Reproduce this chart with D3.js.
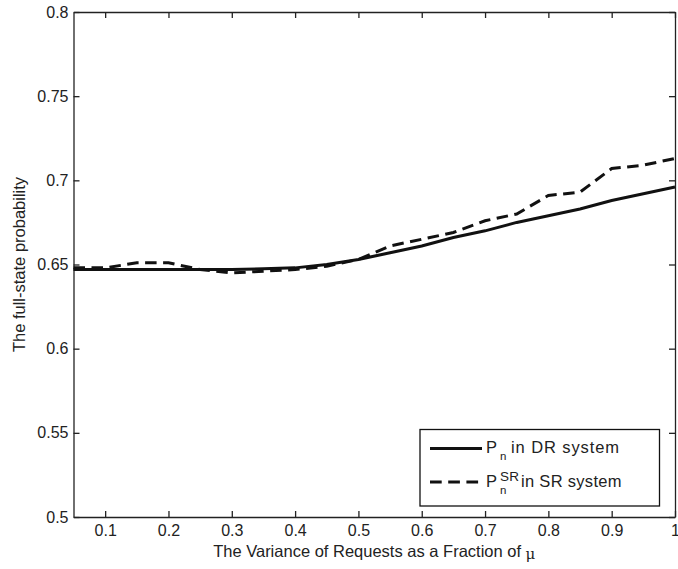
<!DOCTYPE html>
<html>
<head>
<meta charset="utf-8">
<script src="https://cdn.jsdelivr.net/npm/d3@7"></script>
<style>
  body { margin: 0; background: #fff; }
  svg { display: block; font-family: "Liberation Sans", Arial, sans-serif; }
  .axis text { font-size: 16px; fill: #222; }
  .axis path, .axis line { stroke: #222; stroke-width: 1.3; }
</style>
</head>
<body>
<svg id="chart" width="678" height="569"></svg>
<script>
const xValues = [0.05, 0.1, 0.15, 0.2, 0.25, 0.3, 0.35, 0.4, 0.45, 0.5, 0.55, 0.6, 0.65, 0.7, 0.75, 0.8, 0.85, 0.9, 0.95, 1.0];
const drSystem = [0.647, 0.647, 0.647, 0.647, 0.647, 0.647, 0.6475, 0.648, 0.650, 0.653, 0.657, 0.661, 0.666, 0.670, 0.675, 0.679, 0.683, 0.688, 0.692, 0.696];
const srSystem = [0.648, 0.648, 0.651, 0.651, 0.647, 0.645, 0.646, 0.647, 0.649, 0.653, 0.661, 0.665, 0.669, 0.676, 0.680, 0.691, 0.693, 0.707, 0.709, 0.713];
const xTicks = [0.1, 0.2, 0.3, 0.4, 0.5, 0.6, 0.7, 0.8, 0.9, 1];
const yTicks = [0.5, 0.55, 0.6, 0.65, 0.7, 0.75, 0.8];

const svg = d3.select("#chart");
const margin = { left: 73.5, right: 675, top: 12, bottom: 517 };

const x = d3.scaleLinear().domain([0.05, 1]).range([margin.left, margin.right]);
const y = d3.scaleLinear().domain([0.5, 0.8]).range([margin.bottom, margin.top]);

const fmt = (d) => String(+d.toFixed(2));

// box axes, ticks pointing inward on all four sides
svg.append("g").attr("class", "axis")
  .attr("transform", `translate(0,${margin.bottom})`)
  .call(d3.axisBottom(x).tickValues(xTicks).tickFormat(fmt).tickSizeInner(-6).tickSizeOuter(0).tickPadding(8));
svg.append("g").attr("class", "axis")
  .attr("transform", `translate(0,${margin.top})`)
  .call(d3.axisTop(x).tickValues(xTicks).tickFormat("").tickSizeInner(-6).tickSizeOuter(0));
svg.append("g").attr("class", "axis")
  .attr("transform", `translate(${margin.left},0)`)
  .call(d3.axisLeft(y).tickValues(yTicks).tickFormat(fmt).tickSizeInner(-6).tickSizeOuter(0).tickPadding(5));
svg.append("g").attr("class", "axis")
  .attr("transform", `translate(${margin.right},0)`)
  .call(d3.axisRight(y).tickValues(yTicks).tickFormat("").tickSizeInner(-6).tickSizeOuter(0));

svg.selectAll(".axis .tick text").attr("fill", "#222");

const line = d3.line().x((d) => x(d[0])).y((d) => y(d[1]));

svg.append("path")
  .datum(xValues.map((v, i) => [v, drSystem[i]]))
  .attr("d", line)
  .attr("fill", "none").attr("stroke", "#111").attr("stroke-width", 3);

svg.append("path")
  .datum(xValues.map((v, i) => [v, srSystem[i]]))
  .attr("d", line)
  .attr("fill", "none").attr("stroke", "#111").attr("stroke-width", 3)
  .attr("stroke-dasharray", "11.5,6.5");

// axis labels
svg.append("text")
  .attr("x", (margin.left + margin.right) / 2).attr("y", 557)
  .attr("text-anchor", "middle").attr("font-size", 16.5).attr("fill", "#222")
  .html('The Variance of Requests as a Fraction of <tspan font-family="DejaVu Serif" font-size="15" dy="2">\u03bc</tspan>');

svg.append("text")
  .attr("transform", `translate(25,${(margin.top + margin.bottom) / 2}) rotate(-90)`)
  .attr("text-anchor", "middle").attr("font-size", 16.5).attr("fill", "#222")
  .text("The full-state probability");

// legend
const legend = svg.append("g").attr("fill", "#222");
legend.append("rect")
  .attr("x", 420).attr("y", 429.5).attr("width", 239.5).attr("height", 76.5)
  .attr("fill", "#fff").attr("stroke", "#111").attr("stroke-width", 1.3);

const rows = [
  { y: 448.5, dash: null, sup: null, rest: "in DR system", restX: 511, restW: 108 },
  { y: 482, dash: "11.7,6.5", sup: "SR", rest: "in SR system", restX: 521, restW: 100.5 },
];
rows.forEach((r) => {
  legend.append("line")
    .attr("x1", 430).attr("x2", 482).attr("y1", r.y).attr("y2", r.y)
    .attr("stroke", "#111").attr("stroke-width", 3)
    .attr("stroke-dasharray", r.dash);
  const base = r.y + 4.5;
  legend.append("text").attr("x", 486).attr("y", base).attr("font-size", 16.5).text("P");
  legend.append("text").attr("x", 500).attr("y", base + 7).attr("font-size", 11.5).text("n");
  if (r.sup) {
    legend.append("text").attr("x", 500).attr("y", base - 5.5)
      .attr("font-size", 13.5).attr("textLength", 19).text(r.sup);
  }
  legend.append("text").attr("x", r.restX).attr("y", base)
    .attr("font-size", 16.5).attr("textLength", r.restW).text(r.rest);
});
</script>
</body>
</html>
